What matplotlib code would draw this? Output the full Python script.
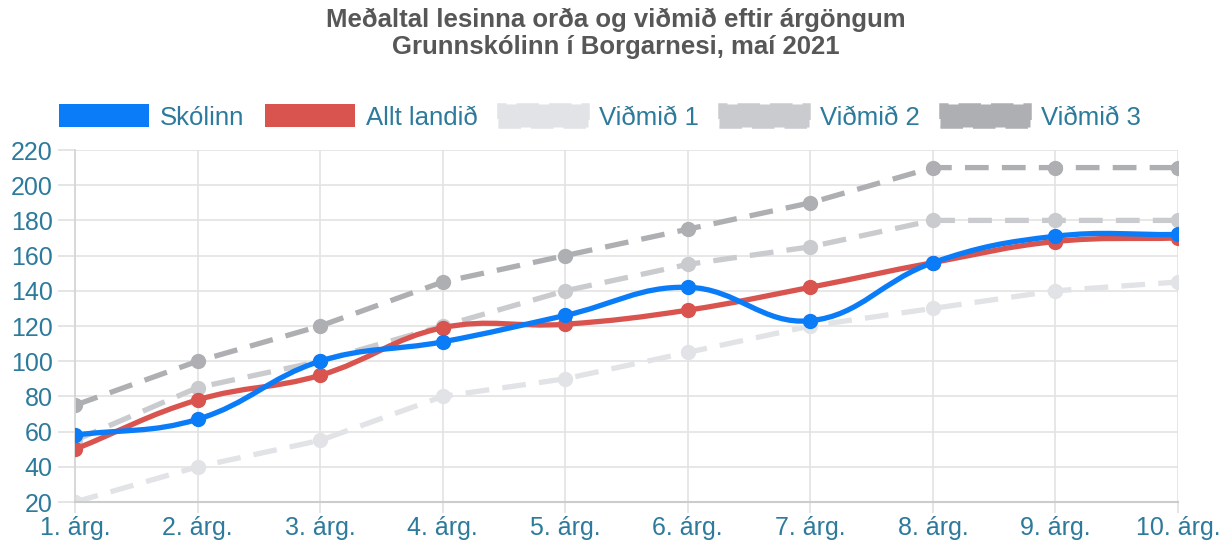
import numpy as np
import matplotlib
matplotlib.use("Agg")
import matplotlib.pyplot as plt
from matplotlib.path import Path
from matplotlib.patches import PathPatch, Patch

categories = ["1. árg.", "2. árg.", "3. árg.", "4. árg.", "5. árg.",
              "6. árg.", "7. árg.", "8. árg.", "9. árg.", "10. árg."]
skolinn = [58, 67, 100, 111, 126, 142, 123, 156, 171, 172]
allt_landid = [50, 78, 92, 119, 121, 129, 142, 156, 168, 170]
vidmid1 = [20, 40, 55, 80, 90, 105, 120, 130, 140, 145]
vidmid2 = [55, 85, 100, 120, 140, 155, 165, 180, 180, 180]
vidmid3 = [75, 100, 120, 145, 160, 175, 190, 210, 210, 210]
yticks = list(range(20, 221, 20))

plt.rcParams['font.family'] = ['Liberation Sans', 'DejaVu Sans']

W, H = 1232, 548
fig = plt.figure(figsize=(W/100, H/100), dpi=100)
ax = fig.add_axes([75/W, 1-502/H, (1178-75)/W, (502-150)/H])

x = np.arange(len(categories))
ax.set_xlim(0, len(categories)-1)
ax.set_ylim(20, 220)

# pixel scale factors for Chart.js style spline
sx = (1178-75)/(len(categories)-1)
sy = (502-150)/200.0

def spline_path(xs, ys, tension=0.4):
    px = np.array(xs, float)*sx
    py = np.array(ys, float)*sy
    n = len(px)
    cps = []
    for i in range(n):
        prev = (px[max(i-1, 0)], py[max(i-1, 0)])
        cur = (px[i], py[i])
        nxt = (px[min(i+1, n-1)], py[min(i+1, n-1)])
        d01 = np.hypot(cur[0]-prev[0], cur[1]-prev[1])
        d12 = np.hypot(nxt[0]-cur[0], nxt[1]-cur[1])
        s01 = d01/(d01+d12) if (d01+d12) else 0
        s12 = d12/(d01+d12) if (d01+d12) else 0
        fa = tension*s01
        fb = tension*s12
        c1 = (cur[0]-fa*(nxt[0]-prev[0]), cur[1]-fa*(nxt[1]-prev[1]))
        c2 = (cur[0]+fb*(nxt[0]-prev[0]), cur[1]+fb*(nxt[1]-prev[1]))
        cps.append((c1, c2))
    verts = [(px[0]/sx, py[0]/sy)]
    codes = [Path.MOVETO]
    for i in range(1, n):
        c2 = cps[i-1][1]
        c1 = cps[i][0]
        verts += [(c2[0]/sx, c2[1]/sy), (c1[0]/sx, c1[1]/sy), (px[i]/sx, py[i]/sy)]
        codes += [Path.CURVE4]*3
    return Path(verts, codes)

c_blue = '#0a7cf7'
c_red = '#d9534f'
c_v1 = '#e1e3e6'
c_v2 = '#c9cbce'
c_v3 = '#aeafb2'

lw = 3.8
for vals, col, z in [(vidmid1, c_v1, 2), (vidmid2, c_v2, 2.1), (vidmid3, c_v3, 2.2)]:
    ax.plot(x, vals, color=col, lw=lw, ls=(0, (4.5, 2.5)), zorder=z)
    ax.plot(x, vals, 'o', color=col, ms=10, zorder=z)

for vals, col, z in [(allt_landid, c_red, 3), (skolinn, c_blue, 4)]:
    ax.add_patch(PathPatch(spline_path(x, vals), fill=False, edgecolor=col,
                           lw=lw, zorder=z, capstyle='round', joinstyle='round'))
    ax.plot(x, vals, 'o', color=col, ms=10, zorder=z)

tick_col = '#2c7a9c'
ax.set_xticks(x)
ax.set_xticklabels(categories)
ax.set_yticks(yticks)
ax.tick_params(axis='both', colors='#e0e0e0', labelcolor=tick_col,
               labelsize=18, width=1.2)
ax.tick_params(axis='x', length=8, pad=2)
ax.tick_params(axis='y', length=12, pad=4)
ax.grid(True, color='#e3e3e3', lw=1.2, zorder=0)
for s in ['top', 'right']:
    ax.spines[s].set_visible(False)
ax.spines['left'].set_color('#d6d6d6')
ax.spines['bottom'].set_color('#cccccc')
ax.spines['left'].set_linewidth(1.3)
ax.spines['bottom'].set_linewidth(1.5)
ax.set_axisbelow(True)

fig.text(0.5, 1-20/H, "Meðaltal lesinna orða og viðmið eftir árgöngum",
         ha='center', va='center', fontsize=18.5, fontweight='bold', color='#575757')
fig.text(0.5, 1-47/H, "Grunnskólinn í Borgarnesi, maí 2021",
         ha='center', va='center', fontsize=18.5, fontweight='bold', color='#575757')

handles = [Patch(facecolor=c_blue, edgecolor='none'),
           Patch(facecolor=c_red, edgecolor='none'),
           Patch(facecolor=c_v1, edgecolor=c_v1, ls=(0, (9, 4)), lw=1.8),
           Patch(facecolor=c_v2, edgecolor=c_v2, ls=(0, (9, 4)), lw=1.8),
           Patch(facecolor=c_v3, edgecolor=c_v3, ls=(0, (9, 4)), lw=1.8)]
labels = ["Skólinn", "Allt landið", "Viðmið 1", "Viðmið 2", "Viðmið 3"]
leg = fig.legend(handles, labels, loc='center', bbox_to_anchor=(0.487, 1-117/H),
                 ncol=5, frameon=False, handlelength=3.5, handleheight=1.0,
                 handletextpad=0.42, columnspacing=0.8, fontsize=18.5)
for t in leg.get_texts():
    t.set_color(tick_col)

fig.savefig("out.png", dpi=100)
